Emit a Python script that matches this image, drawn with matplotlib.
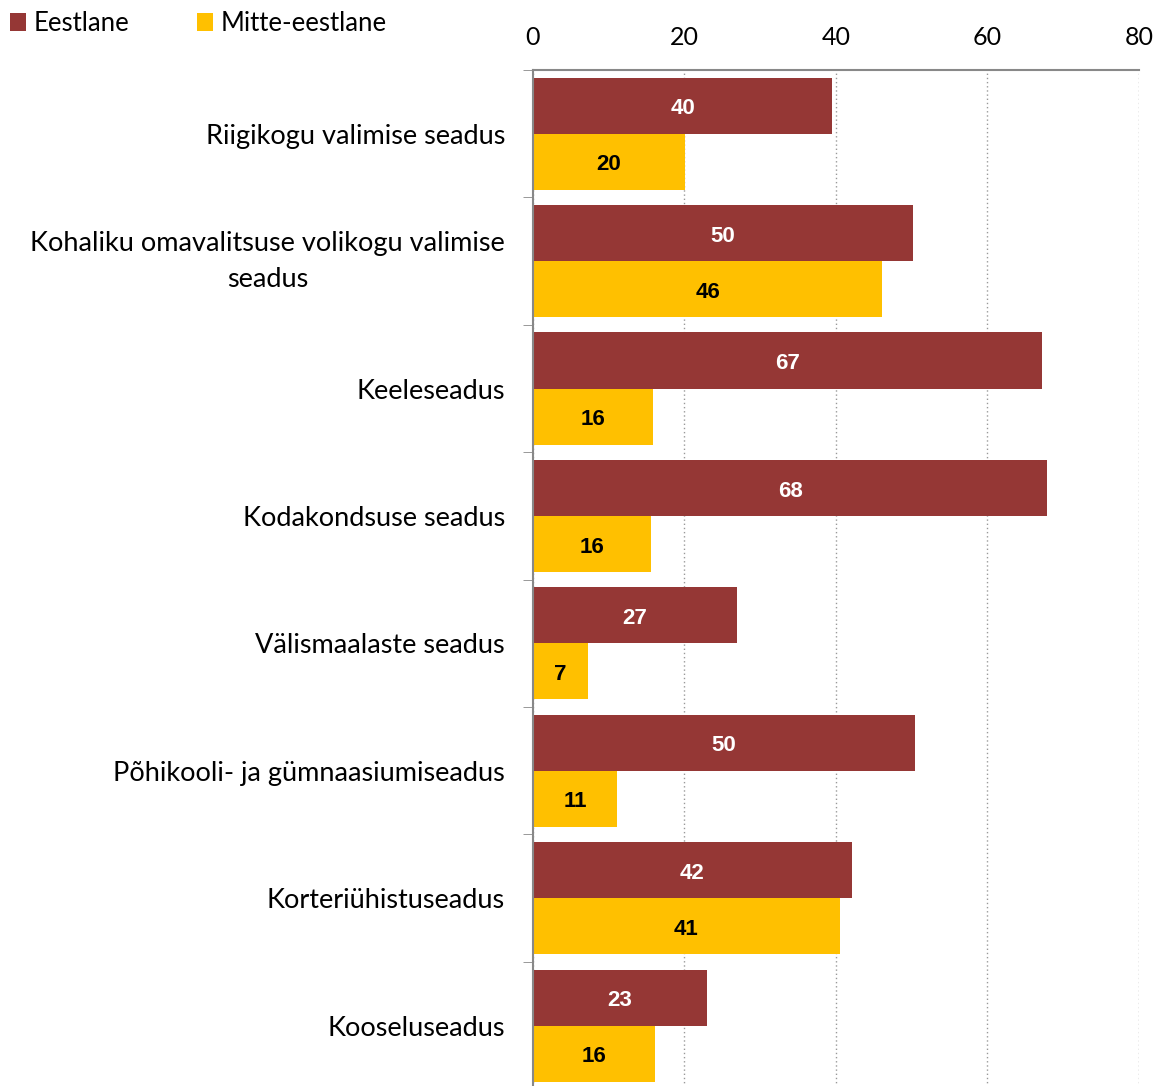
import matplotlib.pyplot as plt
import numpy as np

categories = ["Riigikogu valimise seadus",
              "Kohaliku omavalitsuse volikogu valimise\nseadus",
              "Keeleseadus",
              "Kodakondsuse seadus",
              "Välismaalaste seadus",
              "Põhikooli- ja gümnaasiumiseadus",
              "Korteriühistuseadus",
              "Kooseluseadus"]
eestlane = [39.5, 50.2, 67.2, 67.9, 26.9, 50.4, 42.1, 23.0]
mitte_eestlane = [20.1, 46.1, 15.8, 15.6, 7.3, 11.1, 40.5, 16.1]
labels_e = [40, 50, 67, 68, 27, 50, 42, 23]
labels_m = [20, 46, 16, 16, 7, 11, 41, 16]

red = "#953735"
yellow = "#FFC000"
txt_font = ["Lato", "DejaVu Sans"]

fig = plt.figure(figsize=(11.61, 10.86), dpi=100)
ax = fig.add_axes([0.459, -0.003, 0.522, 0.9385])

n = len(categories)
y = np.arange(n)
h = 0.44
ax.barh(y - h / 2, eestlane, height=h, color=red, label="Eestlane")
ax.barh(y + h / 2, mitte_eestlane, height=h, color=yellow, label="Mitte-eestlane")

# value labels in the middle of each bar
for i in range(n):
    ax.text(eestlane[i] / 2, y[i] - h / 2 + 0.025, str(labels_e[i]), ha="center", va="center",
            color="white", fontsize=16, fontweight="bold", family="Liberation Sans")
    ax.text(mitte_eestlane[i] / 2, y[i] + h / 2 + 0.025, str(labels_m[i]), ha="center", va="center",
            color="black", fontsize=16, fontweight="bold", family="Liberation Sans")

ax.set_xlim(0, 80)
ax.set_ylim(n - 0.5, -0.5)
ax.xaxis.tick_top()
ax.set_xticks([0, 20, 40, 60, 80])
ax.tick_params(axis="x", length=0, labelsize=18, pad=15)
for lab in ax.get_xticklabels():
    lab.set_family(txt_font)

ax.set_yticks(np.arange(n + 1) - 0.5, minor=True)
ax.set_yticks(y)
ax.set_yticklabels(categories, fontsize=19.5, family=txt_font, ha="right",
                   multialignment="center", linespacing=1.55)
for lab in ax.get_yticklabels():
    if "\n" in lab.get_text():
        lab.set_verticalalignment("center")
ax.tick_params(axis="y", which="major", length=0, pad=20)
ax.tick_params(axis="y", which="minor", length=7, color="#888888")

ax.grid(axis="x", linestyle=(0, (1, 2)), color="#999999", linewidth=1)
ax.set_axisbelow(True)
for s in ["right", "bottom"]:
    ax.spines[s].set_visible(False)
for s in ["top", "left"]:
    ax.spines[s].set_color("#888888")
    ax.spines[s].set_linewidth(1.5)

fig.legend(loc="upper left", bbox_to_anchor=(-0.005, 1.004), borderaxespad=0.2, ncol=2, frameon=False,
           prop={"family": txt_font, "size": 18.5}, handlelength=0.65, handleheight=0.65,
           handletextpad=0.3, columnspacing=2.6)

plt.savefig("out.png")
